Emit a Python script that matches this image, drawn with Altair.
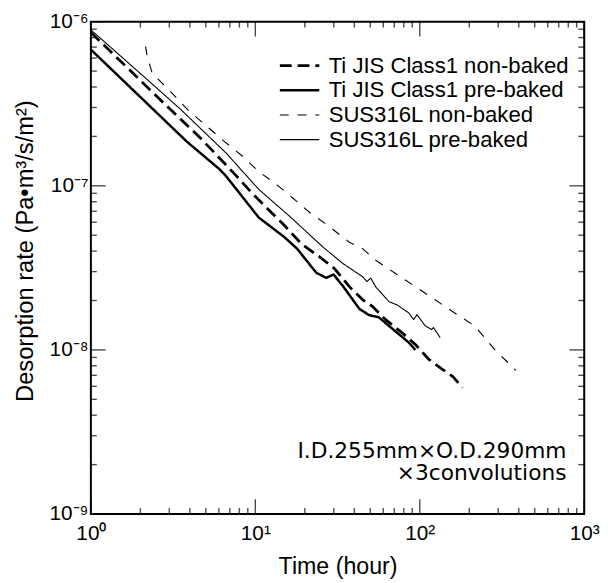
import math
import altair as alt
import pandas as pd

FONT = "Liberation Sans"

# ---------------- data ----------------
series_names = [
    "Ti JIS Class1 non-baked",
    "Ti JIS Class1 pre-baked",
    "SUS316L non-baked",
    "SUS316L pre-baked",
]

ti_nb_t = [1.0, 1.68, 2.80, 4.65, 7.54, 9.57, 12.2, 14.8, 19.1, 24.7, 30.3, 37.3,
           45.0, 51.6, 62.0, 78.2, 94.0, 113, 136, 159, 182]
ti_nb_v = [8.6e-7, 5.2e-7, 3.16e-7, 1.95e-7, 1.17e-7, 9.0e-8, 7.05e-8, 5.83e-8,
           4.42e-8, 3.68e-8, 3.13e-8, 2.43e-8, 2.02e-8, 1.84e-8, 1.53e-8, 1.27e-8,
           1.08e-8, 8.8e-9, 7.67e-9, 6.87e-9, 5.89e-9]

ti_pb_t = [1.0, 3.83, 6.07, 6.66, 10.5, 14.9, 17.9, 23.5, 27.0, 29.9, 34.1, 42.9,
           49.1, 56.4, 65.0, 85.7, 94.0]
ti_pb_v = [6.76e-7, 1.86e-7, 1.26e-7, 1.14e-7, 6.4e-8, 4.9e-8, 4.15e-8, 2.95e-8,
           2.75e-8, 2.88e-8, 2.45e-8, 1.78e-8, 1.63e-8, 1.58e-8, 1.40e-8, 1.11e-8,
           1.0e-8]

sus_nb_t = [2.15, 2.20, 2.36, 3.04, 3.86, 4.98, 6.41, 8.26, 10.5, 13.6, 17.1, 21.5,
            27.0, 37.3, 45.0, 54.0, 71.2, 94.0, 124, 163, 216, 284, 342, 384]
sus_nb_v = [7.08e-7, 6.16e-7, 4.85e-7, 3.76e-7, 2.92e-7, 2.34e-7, 1.88e-7, 1.53e-7,
            1.22e-7, 1.01e-7, 8.34e-8, 6.85e-8, 5.83e-8, 4.53e-8, 4.13e-8, 3.52e-8,
            2.92e-8, 2.43e-8, 2.02e-8, 1.68e-8, 1.40e-8, 1.01e-8, 8.41e-9, 7.5e-9]

sus_pb_t = [1.0, 1.92, 3.49, 6.66, 10.5, 16.0, 25.8, 34.1, 45.0, 47.7, 50.4, 54.0,
            65.0, 72.9, 85.7, 91.8, 96.2, 108, 118, 121, 133]
sus_pb_v = [8.92e-7, 5.01e-7, 2.94e-7, 1.58e-7, 9.5e-8, 6.58e-8, 4.23e-8, 3.36e-8,
            2.79e-8, 2.61e-8, 2.74e-8, 2.42e-8, 1.97e-8, 1.88e-8, 1.68e-8, 1.53e-8,
            1.64e-8, 1.40e-8, 1.33e-8, 1.37e-8, 1.19e-8]

x_major = [1, 10, 100, 1000]
x_major_labels = ["10⁰", "10¹", "10²", "10³"]
x_minor = [m * d for d in (1, 10, 100) for m in range(2, 10)]

y_major = [1e-9, 1e-8, 1e-7, 1e-6]
y_major_labels = ["10⁻⁹", "10⁻⁸", "10⁻⁷", "10⁻⁶"]
y_minor = [m * d for d in (1e-9, 1e-8, 1e-7) for m in range(2, 10)]

x_domain = [1, 1000]
y_domain = [1e-9, 1e-6]

note_text = "I.D.255mm×O.D.290mm\n×3convolutions"

# ---------------- build ----------------
rows = []
for name, ts, vs in zip(series_names,
                        [ti_nb_t, ti_pb_t, sus_nb_t, sus_pb_t],
                        [ti_nb_v, ti_pb_v, sus_nb_v, sus_pb_v]):
    for i, (t, v) in enumerate(zip(ts, vs)):
        rows.append({"series": name, "t": t, "v": v, "i": i})
df = pd.DataFrame(rows)

xscale = alt.Scale(type="log", domain=x_domain, nice=False)
yscale = alt.Scale(type="log", domain=y_domain, nice=False)


def label_expr(values, labels):
    parts = []
    for v, lab in zip(values, labels):
        parts.append(
            f"abs(log(datum.value)/LN10 - ({math.log10(v):.4f})) < 0.01 ? '{lab}' : "
        )
    return "".join(parts) + "''"


x_axis = alt.Axis(
    values=x_major, labelExpr=label_expr(x_major, x_major_labels),
    ticks=False, domain=False, grid=False,
    labelFont=FONT, labelFontSize=21, labelColor="black", labelPadding=9,
    labelFlush=False, labelOverlap=False,
    title="Time (hour)", titleFont=FONT, titleFontSize=23.5,
    titleFontWeight="normal", titleColor="black",
    titleBaseline="alphabetic", titleY=60)
y_axis = alt.Axis(
    values=y_major, labelExpr=label_expr(y_major, y_major_labels),
    ticks=False, domain=False, grid=False,
    labelFont=FONT, labelFontSize=21, labelColor="black", labelPadding=3,
    labelFlush=False, labelOverlap=False,
    title="Desorption rate (Pa•m³/s/m²)", titleFont=FONT, titleFontSize=24,
    titleFontWeight="normal", titleColor="black",
    titleBaseline="alphabetic", titleX=-59, titleY=232)

W, H = 500, 499

legend = alt.Legend(
    orient="none", legendX=190, legendY=33, title=None,
    labelFont=FONT, labelFontSize=22.4, labelColor="black", labelLimit=400,
    labelOffset=8, symbolType="stroke", symbolSize=1600,
    symbolStrokeColor="black", clipHeight=23, rowPadding=2, padding=0,
)

lines = alt.Chart(df).mark_line(clip=True, strokeJoin="round", color="black").encode(
    x=alt.X("t:Q", scale=xscale, axis=x_axis),
    y=alt.Y("v:Q", scale=yscale, axis=y_axis),
    order=alt.Order("i:Q"),
    strokeDash=alt.StrokeDash("series:N", scale=alt.Scale(
        domain=series_names, range=[[12, 6], [1, 0], [9, 9], [1, 0]]), legend=legend),
    strokeWidth=alt.StrokeWidth("series:N", scale=alt.Scale(
        type="ordinal", domain=series_names, range=[2.8, 2.5, 1.1, 1.1]), legend=legend),
)


def xticks(values, at, length, sign):
    d = pd.DataFrame({"t": values, "v": [at] * len(values)})
    return alt.Chart(d).mark_tick(
        orient="vertical", size=length, thickness=1.4, color="black",
        yOffset=sign * length / 2).encode(
        x=alt.X("t:Q", scale=xscale, axis=x_axis),
        y=alt.Y("v:Q", scale=yscale, axis=y_axis))


def yticks(values, at, length, sign):
    d = pd.DataFrame({"t": [at] * len(values), "v": values})
    return alt.Chart(d).mark_tick(
        orient="horizontal", size=length, thickness=1.4, color="black",
        xOffset=sign * length / 2).encode(
        x=alt.X("t:Q", scale=xscale, axis=x_axis),
        y=alt.Y("v:Q", scale=yscale, axis=y_axis))


MAJ, MIN = 15, 6
tick_layers = [
    xticks(x_major, y_domain[0], MAJ, -1), xticks(x_minor, y_domain[0], MIN, -1),
    xticks(x_major, y_domain[1], MAJ, 1), xticks(x_minor, y_domain[1], MIN, 1),
    yticks(y_major, x_domain[0], MAJ, 1), yticks(y_minor, x_domain[0], MIN, 1),
    yticks(y_major, x_domain[1], MAJ, -1), yticks(y_minor, x_domain[1], MIN, -1),
]

note = alt.Chart(pd.DataFrame({"txt": [note_text]})).mark_text(
    align="right", baseline="alphabetic", font="DejaVu Sans", fontSize=22,
    lineBreak="\n", lineHeight=23, color="black").encode(
    text="txt:N", x=alt.value(482), y=alt.value(442))

chart = alt.layer(lines, *tick_layers, note).properties(
    width=W, height=H,
    autosize=alt.AutoSizeParams(type="none"),
    padding={"left": 84, "top": 10, "right": 16, "bottom": 64},
    background="white",
).configure_view(stroke="black", strokeWidth=2)

chart.save("out.html", embed_options={"renderer": "svg", "actions": False})
